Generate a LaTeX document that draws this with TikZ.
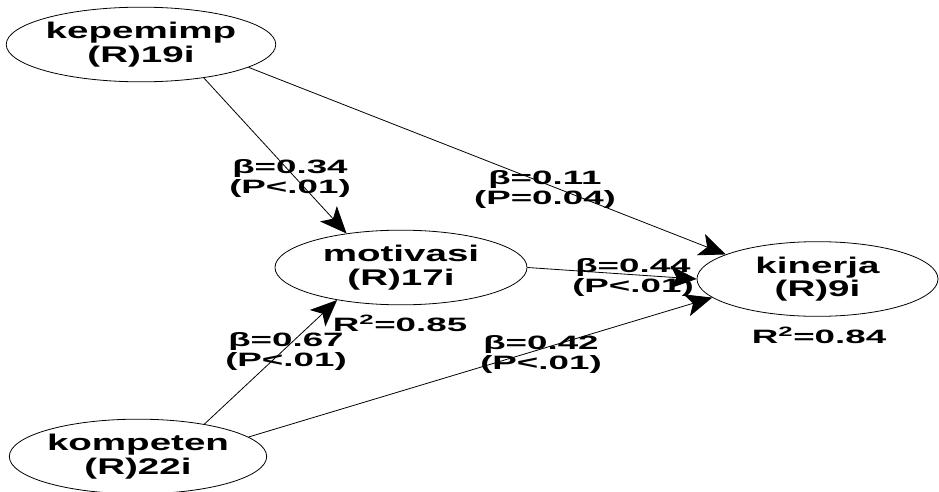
\documentclass[tikz,border=0pt]{standalone}
\usepackage{fontspec}
\setmainfont{Liberation Sans}
\newfontfamily\varfont{Liberation Sans}[FakeStretch=1.7]
\newfontfamily\coeffont{Liberation Sans}[FakeStretch=1.9]
\usetikzlibrary{shapes.geometric,arrows.meta}

\begin{document}
\begin{tikzpicture}[
  x = 0.75pt, y = -0.75pt,
  latent/.style = {draw, ellipse, line width = 0.6pt, minimum width = 189pt,
                   minimum height = 56pt, inner sep = 0pt, align = center,
                   font = \varfont\bfseries\fontsize{17}{17.5}\selectfont},
  coef/.style = {align = center, inner sep = 0pt,
                 font = \coeffont\bfseries\fontsize{14.5}{15}\selectfont},
  effect/.style = {line width = 0.6pt,
                   -{Stealth[length = 20pt, width = 17pt, inset = 5pt]}},
  ]
  \useasboundingbox[fill = white] (0,0) rectangle (939,492);

  % latent variables
  \node[latent] (kep) at (141,44.5) {kepemimp\\(R)19i};
  \node[latent] (mot) at (401,267.5) {motivasi\\(R)17i};
  \node[latent, minimum width = 180.75pt] (kin) at (817.5,279) {kinerja\\(R)9i};
  \node[latent] (kom) at (138,456.5) {kompeten\\(R)22i};

  % paths
  \draw[effect] (kep.-28.5) -- (mot.148);
  \draw[effect] (kep.-12.5) -- (kin.165);
  \draw[effect] (mot.east) -- (kin.west);
  \draw[effect] (kom.26) -- (mot.207);
  \draw[effect] (kom.10) -- (kin.190);

  % coefficients
  \node[coef] (c-kep-mot) at (290,179) {β=0.34\\(P<.01)};
  \node[coef] (c-kep-kin) at (545,190) {β=0.11\\(P=0.04)};
  \node[coef] (c-mot-kin) at (633,277) {β=0.44\\(P<.01)};
  \node[coef] (c-kom-mot) at (286,351) {β=0.67\\(P<.01)};
  \node[coef] (c-kom-kin) at (541,354) {β=0.42\\(P<.01)};
  \node[coef] (r-mot) at (400,323.5) {R\textsuperscript{2}=0.85};
  \node[coef] (r-kin) at (819,335) {R\textsuperscript{2}=0.84};
\end{tikzpicture}
\end{document}
